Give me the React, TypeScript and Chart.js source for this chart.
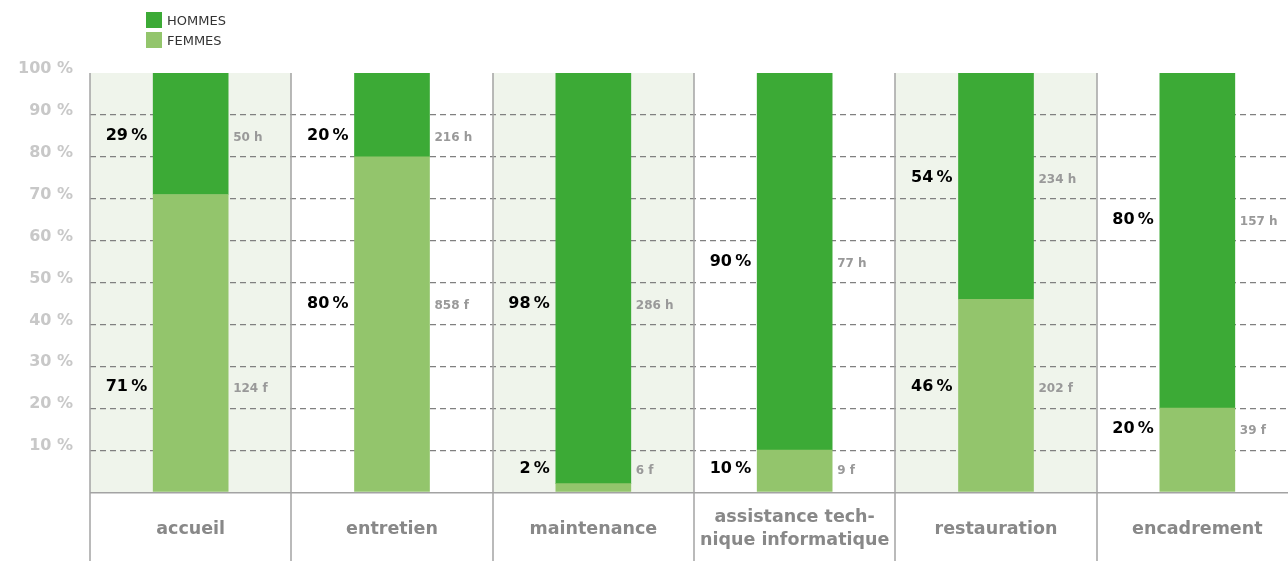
import React, { useEffect, useRef } from 'react';
import { Chart, registerables } from 'chart.js';

Chart.register(...registerables);

const categories: string[][] = [
  ['accueil'],
  ['entretien'],
  ['maintenance'],
  ['assistance tech-', 'nique informatique'],
  ['restauration'],
  ['encadrement'],
];
const femmesPct = [71, 80, 2, 10, 46, 20];
const hommesPct = [29, 20, 98, 90, 54, 80];
const femmesCount = [124, 858, 6, 9, 202, 39];
const hommesCount = [50, 216, 286, 77, 234, 157];
// value (in %) at which each annotation is placed
const hommesLabelAt = [85, 85, 45, 55, 75, 65];
const femmesLabelAt = [25, 45, 5.5, 5.5, 25, 15];

const HOMMES_COLOR = '#3caa36';
const FEMMES_COLOR = '#93c56c';
const SHADE = '#eff4eb';
const LINE = '#a3a3a3';
const FONT = '"DejaVu Sans", "Open Sans", sans-serif';

const annotPlugin = {
  id: 'annot',
  beforeDraw(chart: any) {
    const { ctx, chartArea: a, scales } = chart;
    const x = scales.x;
    ctx.save();
    ctx.fillStyle = SHADE;
    for (let i = 0; i < categories.length; i += 2) {
      const l = x.getPixelForValue(i - 0.5);
      const r = x.getPixelForValue(i + 0.5);
      ctx.fillRect(l, a.top, r - l, a.bottom - a.top);
    }
    ctx.restore();
  },
  afterDatasetsDraw(chart: any) {
    const { ctx, chartArea: a, scales } = chart;
    const x = scales.x;
    const y = scales.y;
    const H = chart.height;
    ctx.save();
    // baseline
    ctx.strokeStyle = LINE;
    ctx.lineWidth = 1.5;
    ctx.beginPath();
    ctx.moveTo(a.left, a.bottom + 0.75);
    ctx.lineTo(a.right, a.bottom + 0.75);
    ctx.stroke();
    // vertical separators
    for (let i = 0; i <= categories.length; i++) {
      const bx = Math.round(x.getPixelForValue(i - 0.5));
      ctx.beginPath();
      ctx.moveTo(bx, a.top);
      ctx.lineTo(bx, H);
      ctx.stroke();
    }
    const metaF = chart.getDatasetMeta(0);
    for (let i = 0; i < categories.length; i++) {
      const bar = metaF.data[i] as any;
      const left = bar.x - bar.width / 2;
      const right = bar.x + bar.width / 2;
      const yh = y.getPixelForValue(hommesLabelAt[i]);
      const yf = y.getPixelForValue(femmesLabelAt[i]);
      // percent labels
      ctx.fillStyle = '#000';
      ctx.font = `bold 16px ${FONT}`;
      ctx.textAlign = 'right';
      ctx.textBaseline = 'middle';
      ctx.fillText(`${hommesPct[i]}\u2009%`, left - 6, yh);
      ctx.fillText(`${femmesPct[i]}\u2009%`, left - 6, yf);
      // counts
      ctx.fillStyle = '#999';
      ctx.font = `bold 12px ${FONT}`;
      ctx.textAlign = 'left';
      ctx.fillText(`${hommesCount[i]} h`, right + 5, yh + 2);
      ctx.fillText(`${femmesCount[i]} f`, right + 5, yf + 2);
      // category labels
      ctx.fillStyle = '#888';
      ctx.font = `bold 17.5px ${FONT}`;
      ctx.textAlign = 'center';
      const lines = categories[i];
      const lh = 23;
      const cy = a.bottom + 37;
      lines.forEach((ln, k) => {
        ctx.fillText(ln, bar.x, cy + (k - (lines.length - 1) / 2) * lh);
      });
    }
    ctx.restore();
  },
};

export default function App() {
  const ref = useRef<HTMLCanvasElement | null>(null);
  useEffect(() => {
    if (!ref.current) return;
    const chart = new Chart(ref.current, {
      type: 'bar',
      data: {
        labels: categories.map((c) => c.join(' ')),
        datasets: [
          { label: 'FEMMES', data: femmesPct, backgroundColor: FEMMES_COLOR, barThickness: 75, borderWidth: 0 },
          { label: 'HOMMES', data: hommesPct, backgroundColor: HOMMES_COLOR, barThickness: 75, borderWidth: 0 },
        ],
      },
      options: {
        animation: false,
        responsive: true,
        maintainAspectRatio: false,
        layout: { padding: { top: 73, bottom: 69, left: 0, right: 2 } },
        plugins: { legend: { display: false }, tooltip: { enabled: false } },
        scales: {
          x: { stacked: true, display: false, offset: true },
          y: {
            stacked: true,
            min: 0,
            max: 100,
            afterFit: (s: any) => { s.width = 90; },
            border: { display: false, dash: [6, 4] },
            grid: {
              drawTicks: false,
              lineWidth: 1.2,
              color: (c: any) => (c.tick && (c.tick.value === 0 || c.tick.value === 100) ? 'rgba(0,0,0,0)' : '#808080'),
            },
            ticks: {
              stepSize: 10,
              padding: 17,
              labelOffset: -4,
              color: '#c8c8c8',
              font: { family: FONT, size: 16, weight: 'bold' },
              callback: (v: any) => (v === 0 ? '' : `${v} %`),
            },
          },
        },
      },
      plugins: [annotPlugin],
    } as any);
    return () => chart.destroy();
  }, []);

  const legendRow = (color: string, text: string, top: number) => (
    <div style={{ position: 'absolute', left: 146, top, display: 'flex', alignItems: 'center', height: 16 }}>
      <span style={{ display: 'inline-block', width: 16, height: 16, background: color, marginRight: 5 }} />
      <span style={{ font: `13px ${FONT}`, color: '#333' }}>{text}</span>
    </div>
  );

  return (
    <div style={{ position: 'absolute', left: 0, top: 0, width: 1288, height: 561, overflow: 'hidden', background: '#fff' }}>
      <div style={{ position: 'absolute', left: 0, top: 0, width: 1300, height: 561 }}>
        <canvas ref={ref} />
      </div>
      {legendRow(HOMMES_COLOR, 'HOMMES', 12)}
      {legendRow(FEMMES_COLOR, 'FEMMES', 32)}
    </div>
  );
}
